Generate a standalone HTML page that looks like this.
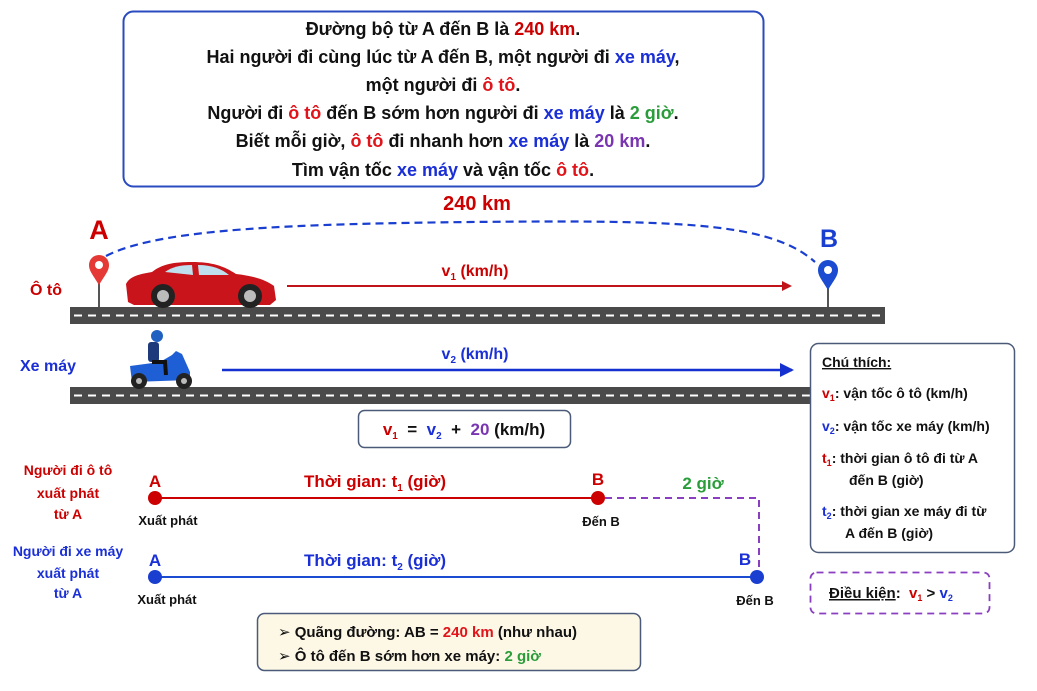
<!DOCTYPE html>
<html><head><meta charset="utf-8"><style>
html,body{margin:0;padding:0;background:#fff;}
svg{display:block;font-family:"Liberation Sans","DejaVu Sans",sans-serif;}
.b{font-weight:bold;}
</style></head><body>
<svg width="1037" height="691" viewBox="0 0 1037 691" xmlns="http://www.w3.org/2000/svg">
<defs>
<marker id="ar" markerWidth="10" markerHeight="10" refX="8" refY="5" orient="auto" markerUnits="userSpaceOnUse"><path d="M0,0 L10,5 L0,10 z" fill="#c0141a"/></marker>
<marker id="ab" markerWidth="14" markerHeight="14" refX="12" refY="7" orient="auto" markerUnits="userSpaceOnUse"><path d="M0,0 L14,7 L0,14 z" fill="#1530d0"/></marker>
</defs>
<rect x="123.5" y="11.5" width="640" height="175" rx="10" fill="#fff" stroke="#2a4bc0" stroke-width="2"/>
<g class="b" font-size="18" text-anchor="middle" fill="#111">
<text x="443" y="35">Đường bộ từ A đến B là <tspan fill="#c00">240 km</tspan>.</text>
<text x="443" y="63">Hai người đi cùng lúc từ A đến B, một người đi <tspan fill="#1a2fd6">xe máy</tspan>,</text>
<text x="443" y="91">một người đi <tspan fill="#e0141a">ô tô</tspan>.</text>
<text x="443" y="119">Người đi <tspan fill="#e0141a">ô tô</tspan> đến B sớm hơn người đi <tspan fill="#1a2fd6">xe máy</tspan> là <tspan fill="#2a9d3a">2 giờ</tspan>.</text>
<text x="443" y="147">Biết mỗi giờ, <tspan fill="#e0141a">ô tô</tspan> đi nhanh hơn <tspan fill="#1a2fd6">xe máy</tspan> là <tspan fill="#7a35b0">20 km</tspan>.</text>
<text x="443" y="176">Tìm vận tốc <tspan fill="#1a2fd6">xe máy</tspan> và vận tốc <tspan fill="#e0141a">ô tô</tspan>.</text>
</g>
<text x="477" y="210" class="b" font-size="20" text-anchor="middle" fill="#c00">240 km</text>
<path d="M106,256 C160,228 300,224 470,222 C680,220 770,222 815,262" fill="none" stroke="#1a3fd0" stroke-width="2.2" stroke-dasharray="8,5"/>
<text x="99" y="239" class="b" font-size="27" text-anchor="middle" fill="#c00">A</text>
<text x="829" y="247" class="b" font-size="25" text-anchor="middle" fill="#1a3fd0">B</text>
<line x1="99" y1="272" x2="99" y2="308" stroke="#555" stroke-width="2"/>
<path d="M99,285 C93,275 89,271 89,265 A10,10 0 1 1 109,265 C109,271 105,275 99,285z" fill="#e53935"/>
<circle cx="99" cy="265" r="4" fill="#fff"/>
<line x1="828" y1="275" x2="828" y2="308" stroke="#555" stroke-width="2"/>
<path d="M828,290 C822,280 818,276 818,270 A10,10 0 1 1 838,270 C838,276 834,280 828,290z" fill="#1a4bd0"/>
<circle cx="828" cy="270" r="4" fill="#fff"/>
<text x="30" y="295" class="b" font-size="16" fill="#c00">Ô tô</text>
<text x="20" y="371" class="b" font-size="16" fill="#1a2fd6">Xe máy</text>
<rect x="70" y="307" width="815" height="17" fill="#4a4a4a"/>
<line x1="74" y1="315.5" x2="885" y2="315.5" stroke="#fff" stroke-width="2" stroke-dasharray="8,6"/>
<rect x="70" y="387" width="742" height="17" fill="#4a4a4a"/>
<line x1="74" y1="395.5" x2="810" y2="395.5" stroke="#fff" stroke-width="2" stroke-dasharray="8,6"/>
<g>
<path d="M128,302 L126,284 C130,276 140,274 152,272 C162,264 174,262 192,262 C212,262 224,266 236,274 C254,276 266,280 274,286 L276,300 L270,305 L134,305 z" fill="#c8141a"/>
<path d="M165,272 C172,267 180,265 192,265 L193,275 z" fill="#bfe0ee"/>
<path d="M198,265 C212,265 222,269 229,275 L199,275 z" fill="#bfe0ee"/>
<circle cx="163" cy="296" r="12" fill="#222"/><circle cx="163" cy="296" r="6" fill="#bbb"/>
<circle cx="250" cy="296" r="12" fill="#222"/><circle cx="250" cy="296" r="6" fill="#bbb"/>
</g>
<g>
<path d="M130,366 L160,362 L172,355 L176,351 L182,354 L190,372 L190,380 L132,382 z" fill="#1f5fd6"/>
<circle cx="139" cy="381" r="8" fill="#222"/><circle cx="139" cy="381" r="3" fill="#bbb"/>
<circle cx="184" cy="381" r="8" fill="#222"/><circle cx="184" cy="381" r="3" fill="#bbb"/>
<rect x="148" y="342" width="11" height="20" rx="3" fill="#1f3a7a"/>
<circle cx="157" cy="336" r="6" fill="#2060c0"/>
<path d="M152,362 L165,362 L166,375" stroke="#111" stroke-width="4" fill="none"/>
</g>
<line x1="287" y1="286" x2="790" y2="286" stroke="#c0141a" stroke-width="2" marker-end="url(#ar)"/>
<text x="475" y="276" class="b" font-size="16" text-anchor="middle" fill="#c00">v<tspan font-size="10" dy="4">1</tspan><tspan dy="-4"> (km/h)</tspan></text>
<line x1="222" y1="370" x2="792" y2="370" stroke="#1530d0" stroke-width="2.5" marker-end="url(#ab)"/>
<text x="475" y="359" class="b" font-size="16" text-anchor="middle" fill="#1a2fd6">v<tspan font-size="10" dy="4">2</tspan><tspan dy="-4"> (km/h)</tspan></text>
<rect x="358.5" y="410.5" width="212" height="37" rx="6" fill="#fff" stroke="#4a5a78" stroke-width="1.5"/>
<text x="464" y="435" class="b" font-size="17" text-anchor="middle" fill="#111" xml:space="preserve"><tspan fill="#c00">v<tspan font-size="10" dy="4">1</tspan></tspan><tspan dy="-4">  =  </tspan><tspan fill="#1a2fd6">v<tspan font-size="10" dy="4">2</tspan></tspan><tspan dy="-4">  +  </tspan><tspan fill="#7a35b0">20</tspan> (km/h)</text>
<rect x="810.5" y="343.5" width="204" height="209" rx="8" fill="#fff" stroke="#4a5a78" stroke-width="1.5"/>
<g font-size="14" fill="#111" class="b">
<text x="822" y="367" text-decoration="underline">Chú thích:</text>
<text x="822" y="398"><tspan fill="#c00">v<tspan font-size="9" dy="3">1</tspan></tspan><tspan dy="-3">: vận tốc ô tô (km/h)</tspan></text>
<text x="822" y="431"><tspan fill="#1a2fd6">v<tspan font-size="9" dy="3">2</tspan></tspan><tspan dy="-3">: vận tốc xe máy (km/h)</tspan></text>
<text x="822" y="463"><tspan fill="#c00">t<tspan font-size="9" dy="3">1</tspan></tspan><tspan dy="-3">:  thời gian ô tô đi từ A</tspan></text>
<text x="849" y="485">đến B (giờ)</text>
<text x="822" y="516"><tspan fill="#1a2fd6">t<tspan font-size="9" dy="3">2</tspan></tspan><tspan dy="-3">:  thời gian xe máy đi từ</tspan></text>
<text x="845" y="538">A đến B (giờ)</text>
</g>
<rect x="810.5" y="572.5" width="179" height="41" rx="6" fill="#fff" stroke="#8a3fc0" stroke-width="1.8" stroke-dasharray="7,5"/>
<text x="829" y="598" font-size="15" class="b" fill="#111" xml:space="preserve"><tspan text-decoration="underline">Điều kiện</tspan>:  <tspan fill="#c00">v<tspan font-size="9" dy="3">1</tspan></tspan><tspan dy="-3"> &gt; </tspan><tspan fill="#1a2fd6">v<tspan font-size="9" dy="3">2</tspan></tspan></text>
<g font-size="14" text-anchor="middle" class="b">
<text x="68" y="475" fill="#c00">Người đi ô tô</text>
<text x="68" y="498" fill="#c00">xuất phát</text>
<text x="68" y="519" fill="#c00">từ A</text>
<text x="68" y="556" fill="#1a2fd6">Người đi xe máy</text>
<text x="68" y="578" fill="#1a2fd6">xuất phát</text>
<text x="68" y="598" fill="#1a2fd6">từ A</text>
</g>
<line x1="155" y1="498" x2="598" y2="498" stroke="#c00" stroke-width="2"/>
<path d="M605,498 L759,498 L759,575" fill="none" stroke="#8a3fc0" stroke-width="2" stroke-dasharray="7,5"/>
<circle cx="155" cy="498" r="7" fill="#c00"/>
<circle cx="598" cy="498" r="7" fill="#c00"/>
<line x1="155" y1="577" x2="757" y2="577" stroke="#1a4bd0" stroke-width="2"/>
<circle cx="155" cy="577" r="7" fill="#1a3fd0"/>
<circle cx="757" cy="577" r="7" fill="#1a3fd0"/>
<g class="b">
<text x="155" y="487" font-size="17" text-anchor="middle" fill="#c00">A</text>
<text x="598" y="485" font-size="17" text-anchor="middle" fill="#c00">B</text>
<text x="155" y="566" font-size="17" text-anchor="middle" fill="#1a2fd6">A</text>
<text x="745" y="565" font-size="17" text-anchor="middle" fill="#1a2fd6">B</text>
<text x="375" y="487" font-size="17" text-anchor="middle" fill="#c00">Thời gian: t<tspan font-size="10" dy="4">1</tspan><tspan dy="-4"> (giờ)</tspan></text>
<text x="375" y="566" font-size="17" text-anchor="middle" fill="#1a2fd6">Thời gian: t<tspan font-size="10" dy="4">2</tspan><tspan dy="-4"> (giờ)</tspan></text>
<text x="703" y="489" font-size="17" text-anchor="middle" fill="#2a9d3a">2 giờ</text>
</g>
<g font-size="13" fill="#111" text-anchor="middle" class="b">
<text x="168" y="525">Xuất phát</text>
<text x="601" y="526">Đến B</text>
<text x="167" y="604">Xuất phát</text>
<text x="755" y="605">Đến B</text>
</g>
<rect x="257.5" y="613.5" width="383" height="57" rx="7" fill="#fdf7e6" stroke="#4a5a78" stroke-width="1.5"/>
<g font-size="15" fill="#111" class="b" xml:space="preserve">
<text x="278" y="637">➢  Quãng đường:  AB  =  <tspan fill="#e0141a">240 km</tspan> (như nhau)</text>
<text x="278" y="661">➢  Ô tô đến B sớm hơn xe máy:  <tspan fill="#2a9d3a">2 giờ</tspan></text>
</g>
</svg>
</body></html>
